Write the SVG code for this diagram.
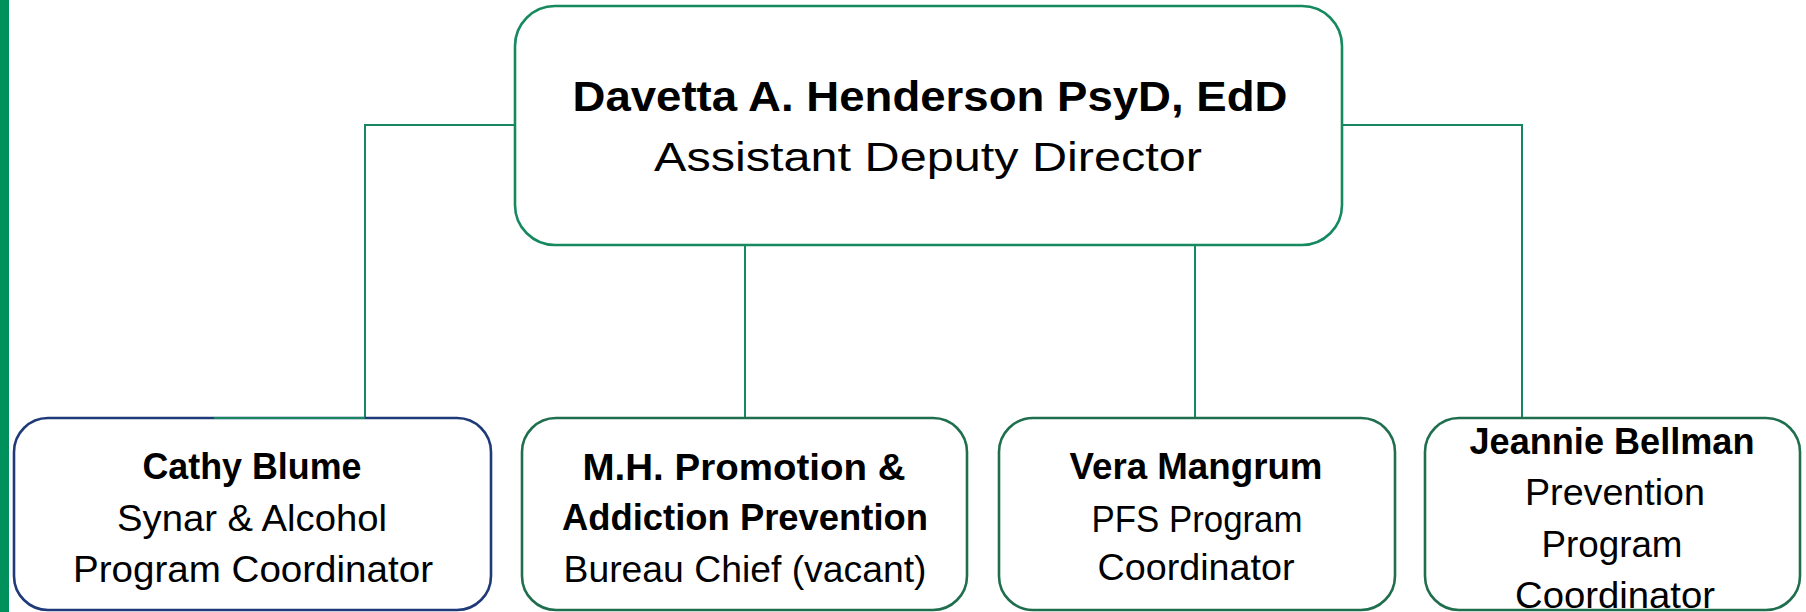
<svg xmlns="http://www.w3.org/2000/svg" width="1806" height="612" viewBox="0 0 1806 612">
<style>
.box{fill:#fff;stroke-width:2.6}
.top{stroke:#16895F}
.navy{stroke:#1E3A78}
.dg{stroke:#1F6E4E}
.conn{fill:none;stroke:#17875F;stroke-width:2}
text{font-family:"Liberation Sans",Arial,sans-serif;fill:#000;text-anchor:middle}
.b{font-weight:bold}
.t1{font-size:42px}
.t2{font-size:41px}
.s{font-size:36px}
</style>
<rect x="0" y="0" width="9" height="612" fill="#00905C"/>
<g id="connectors">
<path class="conn" d="M515,125 H365 V418 H214"/>
<path class="conn" d="M1342,125 H1522 V418"/>
<path class="conn" d="M745,245 V418"/>
<path class="conn" d="M1195,245 V418"/>
</g>
<g id="director">
<rect class="box top" x="515" y="6" width="827" height="239" rx="40"/>
<text class="b t1" x="930" y="111" textLength="715" lengthAdjust="spacingAndGlyphs">Davetta A.  Henderson PsyD, EdD</text>
<text class="t2" x="928" y="171" textLength="548" lengthAdjust="spacingAndGlyphs">Assistant Deputy Director</text>
</g>
<g id="blume">
<rect class="box navy" x="14" y="418" width="477" height="192" rx="34"/>
<path class="conn" d="M214,418 H365"/>
<text class="b s" x="252" y="479" textLength="219" lengthAdjust="spacingAndGlyphs">Cathy Blume</text>
<text class="s" x="252" y="531" textLength="270" lengthAdjust="spacingAndGlyphs">Synar &amp; Alcohol</text>
<text class="s" x="253" y="582" textLength="360" lengthAdjust="spacingAndGlyphs">Program Coordinator</text>
</g>
<g id="bureau">
<rect class="box dg" x="522" y="418" width="445" height="192" rx="34"/>
<text class="b s" x="744" y="480" textLength="323" lengthAdjust="spacingAndGlyphs">M.H. Promotion  &amp;</text>
<text class="b s" x="745" y="530" textLength="366" lengthAdjust="spacingAndGlyphs">Addiction Prevention</text>
<text class="s" x="745" y="582" textLength="363" lengthAdjust="spacingAndGlyphs">Bureau Chief (vacant)</text>
</g>
<g id="mangrum">
<rect class="box dg" x="999" y="418" width="396" height="192" rx="34"/>
<text class="b s" x="1196" y="479" textLength="253" lengthAdjust="spacingAndGlyphs">Vera Mangrum</text>
<text class="s" x="1197" y="532" textLength="211" lengthAdjust="spacingAndGlyphs">PFS Program</text>
<text class="s" x="1196" y="580" textLength="197" lengthAdjust="spacingAndGlyphs">Coordinator</text>
</g>
<g id="bellman">
<rect class="box dg" x="1425" y="418" width="375" height="192" rx="34"/>
<text class="b s" x="1612" y="454" textLength="285" lengthAdjust="spacingAndGlyphs">Jeannie Bellman</text>
<text class="s" x="1615" y="505" textLength="180" lengthAdjust="spacingAndGlyphs">Prevention</text>
<text class="s" x="1612" y="557" textLength="141" lengthAdjust="spacingAndGlyphs">Program</text>
<text class="s" x="1615" y="608" textLength="200" lengthAdjust="spacingAndGlyphs">Coordinator</text>
</g>
</svg>
